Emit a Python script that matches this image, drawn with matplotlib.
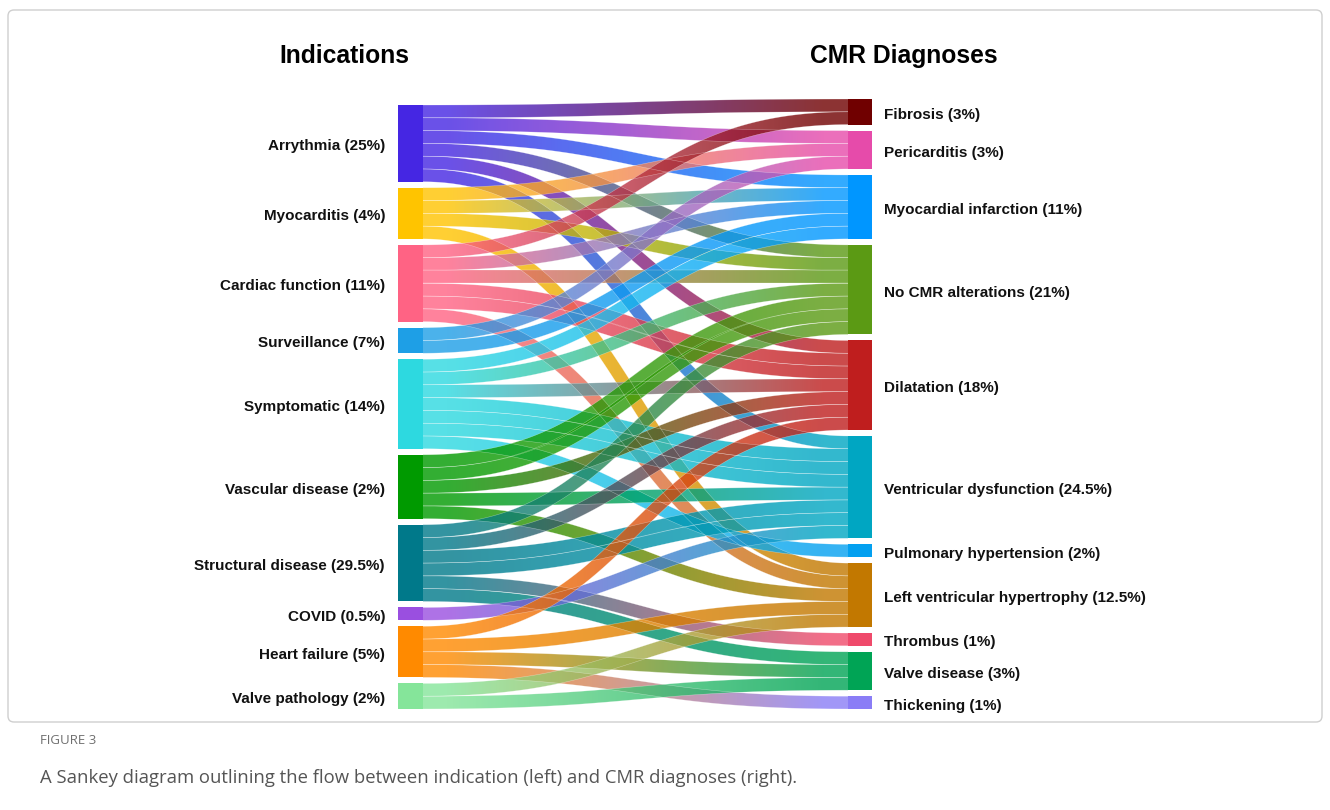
import numpy as np
import matplotlib
matplotlib.use("Agg")
import matplotlib.pyplot as plt
from matplotlib.path import Path
from matplotlib.patches import Rectangle, FancyBboxPatch
from matplotlib.colors import to_rgba

# ---------------- data ----------------
left_labels = ["Arrythmia (25%)", "Myocarditis (4%)", "Cardiac function (11%)",
               "Surveillance (7%)", "Symptomatic (14%)", "Vascular disease (2%)",
               "Structural disease (29.5%)", "COVID (0.5%)", "Heart failure (5%)",
               "Valve pathology (2%)"]
left_colors = ["#4526E3", "#FFC400", "#FF6384", "#1E9FE6", "#2DD9E0",
               "#009A00", "#00798A", "#9A4FE0", "#FF8A00", "#85E59A"]

right_labels = ["Fibrosis (3%)", "Pericarditis (3%)", "Myocardial infarction (11%)",
                "No CMR alterations (21%)", "Dilatation (18%)",
                "Ventricular dysfunction (24.5%)", "Pulmonary hypertension (2%)",
                "Left ventricular hypertrophy (12.5%)", "Thrombus (1%)",
                "Valve disease (3%)", "Thickening (1%)"]
right_colors = ["#700000", "#E64BAA", "#0096FF", "#5B9A14", "#BF1E1E",
                "#00A6C2", "#03A0F0", "#C27800", "#EF4A6B", "#00A455", "#8A7DF6"]

link_source = [0, 0, 0, 0, 0, 0,
               1, 1, 1, 1,
               2, 2, 2, 2, 2, 2,
               3, 3,
               4, 4, 4, 4, 4, 4, 4,
               5, 5, 5, 5, 5,
               6, 6, 6, 6, 6, 6,
               7,
               8, 8, 8, 8,
               9, 9]
link_target = [0, 1, 2, 3, 4, 5,
               1, 2, 3, 7,
               0, 2, 3, 4, 4, 7,
               1, 2,
               2, 3, 4, 5, 5, 5, 6,
               3, 3, 4, 5, 7,
               3, 4, 5, 5, 8, 9,
               5,
               4, 7, 9, 10,
               7, 9]
link_value = [1] * len(link_source)

# ---------------- layout ----------------
W, H = 1330, 810
fig = plt.figure(figsize=(W / 100, H / 100), dpi=100)
ax = fig.add_axes([0, 0, 1, 1])
ax.set_xlim(0, W)
ax.set_ylim(H, 0)
ax.axis("off")

UNIT = 12.79
PAD = 6.0
NODE_W = 25
XL, XR = 398, 848
CENTER = [407, 404]


def node_layout(n, values, center):
    heights = [v * UNIT for v in values]
    total = sum(heights) + PAD * (n - 1)
    y = center - total / 2
    tops = []
    for h in heights:
        tops.append(y)
        y += h + PAD
    return tops, heights


lv = [sum(v for s, v in zip(link_source, link_value) if s == i) for i in range(len(left_labels))]
rv = [sum(v for t, v in zip(link_target, link_value) if t == i) for i in range(len(right_labels))]
ltops, lh = node_layout(len(left_labels), lv, CENTER[0])
rtops, rh = node_layout(len(right_labels), rv, CENTER[1])

# link offsets
nL = len(link_source)
src_y = [0.0] * nL
tgt_y = [0.0] * nL
for s in range(len(left_labels)):
    idx = sorted([i for i in range(nL) if link_source[i] == s], key=lambda i: (link_target[i], i))
    y = ltops[s]
    for i in idx:
        src_y[i] = y
        y += link_value[i] * UNIT
for t in range(len(right_labels)):
    idx = sorted([i for i in range(nL) if link_target[i] == t], key=lambda i: (link_source[i], i))
    y = rtops[t]
    for i in idx:
        tgt_y[i] = y
        y += link_value[i] * UNIT

x0 = XL + NODE_W
x1 = XR
xm = (x0 + x1) / 2
ALPHA = 0.8
NCOL = 430
tt = np.linspace(0, 1, 240)


def band_polygon(yc0, yc1, w):
    P0 = np.array([x0, yc0]); P1 = np.array([xm, yc0])
    P2 = np.array([xm, yc1]); P3 = np.array([x1, yc1])
    a = (1 - tt)[:, None]; b = tt[:, None]
    B = a ** 3 * P0 + 3 * a ** 2 * b * P1 + 3 * a * b ** 2 * P2 + b ** 3 * P3
    D = 3 * a ** 2 * (P1 - P0) + 6 * a * b * (P2 - P1) + 3 * b ** 2 * (P3 - P2)
    D = D / np.linalg.norm(D, axis=1)[:, None]
    N = np.column_stack([-D[:, 1], D[:, 0]])
    top = B - N * w / 2
    bot = B + N * w / 2
    return top, bot


for i in range(nL):
    w = link_value[i] * UNIT
    top, bot = band_polygon(src_y[i] + w / 2, tgt_y[i] + w / 2, w)
    poly = np.vstack([top, bot[::-1], top[:1]])
    path = Path(poly, closed=True)
    c0 = np.array(to_rgba(left_colors[link_source[i]]))
    c1 = np.array(to_rgba(right_colors[link_target[i]]))
    t = np.linspace(0, 1, NCOL)
    ts = np.clip((t - 0.06) / 0.88, 0, 1)
    grad = c0[None, :] * (1 - ts[:, None]) + c1[None, :] * ts[:, None]
    grad[:, 3] = ALPHA
    img = np.repeat(grad[None, :, :], 3, axis=0)
    ymin = poly[:, 1].min() - 2
    ymax = poly[:, 1].max() + 2
    im = ax.imshow(img, extent=(x0 - 2, x1 + 2, ymax, ymin), aspect="auto",
                   interpolation="nearest", zorder=2)
    im.set_clip_path(path, ax.transData)
    for edge in (top, bot):
        ax.plot(edge[:, 0], edge[:, 1], color="white", lw=0.35, alpha=0.45, zorder=2.5)

ax.set_xlim(0, W)
ax.set_ylim(H, 0)

for i, lab in enumerate(left_labels):
    ax.add_patch(Rectangle((XL, ltops[i]), NODE_W, lh[i], facecolor=left_colors[i],
                           edgecolor="none", zorder=3))
    ax.text(385, ltops[i] + lh[i] / 2 + 3, lab, ha="right", va="center",
            fontsize=11, fontweight="bold", family="Liberation Sans", color="#111111", zorder=4)

clip = Rectangle((0, 0), W, 713, transform=ax.transData)
for i, lab in enumerate(right_labels):
    ax.add_patch(Rectangle((XR, rtops[i]), NODE_W - 1, rh[i], facecolor=right_colors[i],
                           edgecolor="none", zorder=3))
    txt = ax.text(884, rtops[i] + rh[i] / 2 + 3, lab, ha="left", va="center",
                  fontsize=11, fontweight="bold", family="Liberation Sans", color="#111111", zorder=4)
    txt.set_clip_path(clip)

ax.text(344, 56, "Indications", ha="center", va="center", fontsize=17.7,
        fontweight="bold", family="Liberation Sans", color="#000000")
ax.text(904, 56, "CMR Diagnoses", ha="center", va="center", fontsize=17.7,
        fontweight="bold", family="Liberation Sans", color="#000000")

# frame
ax.add_patch(FancyBboxPatch((8, 10), 1314, 712, boxstyle="round,pad=0,rounding_size=6",
                            facecolor="none", edgecolor="#cfcfcf", lw=1.0, zorder=1))

ax.text(40, 741, "FIGURE 3", ha="left", va="center", fontsize=9.5,
        family="Open Sans", color="#6f6f6f")
ax.text(40, 778, "A Sankey diagram outlining the flow between indication (left) and CMR diagnoses (right).",
        ha="left", va="center", fontsize=13.3, family="Open Sans", color="#555555")

fig.savefig("out.png", dpi=100)
